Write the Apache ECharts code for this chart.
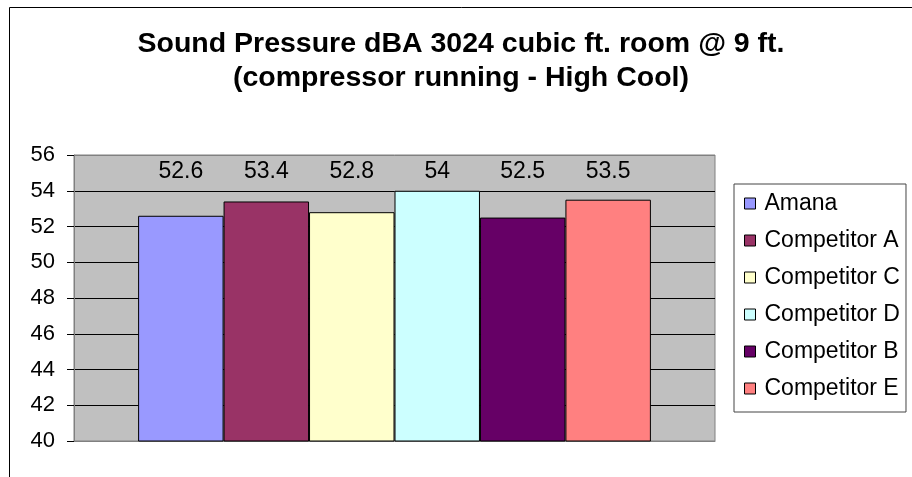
<!DOCTYPE html>
<html>
<head>
<meta charset="utf-8">
<script src="https://cdn.jsdelivr.net/npm/echarts@6/dist/echarts.min.js"></script>
<style>
  html, body { margin: 0; padding: 0; background: #fff; }
  #chart { width: 912px; height: 477px; }
</style>
</head>
<body>
<div id="chart"></div>
<script>
const seriesNames = ["Amana", "Competitor A", "Competitor C", "Competitor D", "Competitor B", "Competitor E"];
const seriesValues = [52.6, 53.4, 52.8, 54, 52.5, 53.5];
const seriesColors = ["#9999ff", "#993366", "#ffffcc", "#ccffff", "#660066", "#ff8080"];
const yTicks = { min: 40, max: 56, interval: 2 };

const font = "Liberation Sans, Arial, sans-serif";
const chart = echarts.init(document.getElementById("chart"), null, { renderer: "canvas" });

// label row sits near the top of the plot, like the Excel original
const labelCenterY = 172;
const labelSize = 23;

const buildSeries = (dist) =>
  seriesNames.map((name, i) => ({
    name: name,
    type: "bar",
    data: [seriesValues[i]],
    barGap: "0%",
    barCategoryGap: "20%",
    itemStyle: { color: seriesColors[i], borderColor: "#000", borderWidth: 1 },
    label: {
      show: true,
      position: "top",
      distance: dist ? dist[i] : 5,
      color: "#000",
      fontFamily: font,
      fontSize: labelSize,
      lineHeight: labelSize,
    },
  }));

const options = {
  animation: false,
  backgroundColor: "#fff",
  title: {
    text: "Sound Pressure dBA 3024 cubic ft. room @ 9 ft.\n(compressor running - High Cool)",
    left: 456,
    textAlign: "center",
    top: 22,
    textStyle: {
      fontFamily: font,
      fontWeight: "bold",
      fontSize: 28.5,
      lineHeight: 34,
      color: "#000",
    },
  },
  graphic: [
    {
      type: "rect",
      shape: { x: 9.5, y: 7.5, width: 1000, height: 1000 },
      style: { fill: "none", stroke: "#000", lineWidth: 1 },
      silent: true,
    },
  ],
  legend: {
    orient: "vertical",
    left: 734,
    top: 184,
    padding: [8, 6, 12, 10],
    itemGap: 14,
    itemWidth: 11,
    itemHeight: 11,
    icon: "rect",
    borderColor: "#444",
    borderWidth: 1,
    backgroundColor: "#fff",
    textStyle: {
      fontFamily: font,
      fontSize: 23,
      color: "#000",
      lineHeight: 23,
      padding: [0, 0, 0, 4],
    },
    itemStyle: { borderColor: "#000", borderWidth: 1 },
    data: seriesNames,
  },
  grid: {
    left: 74,
    right: 197,
    top: 155,
    bottom: 36,
    show: true,
    backgroundColor: "#c0c0c0",
    borderColor: "#808080",
    borderWidth: 1,
  },
  xAxis: {
    type: "category",
    data: [""],
    axisLine: { show: true, lineStyle: { color: "#808080" } },
    axisTick: { show: false },
    axisLabel: { show: false },
  },
  yAxis: {
    type: "value",
    min: yTicks.min,
    max: yTicks.max,
    interval: yTicks.interval,
    axisLine: { show: true, lineStyle: { color: "#808080" } },
    axisTick: { show: true, length: 7, lineStyle: { color: "#000" } },
    axisLabel: { margin: 19, fontFamily: font, fontSize: 22, color: "#000" },
    splitLine: {
      show: true,
      lineStyle: {
        color: ["#808080", "#000", "#000", "#000", "#000", "#000", "#000", "#000", "#808080"],
        width: 1,
      },
    },
  },
  series: buildSeries(null),
};

chart.setOption(options);

// move each label up to the common label row using the axis scale
const dist = seriesValues.map((v) => {
  const barTop = chart.convertToPixel({ yAxisIndex: 0 }, v);
  return Math.max(2, barTop - labelCenterY - labelSize / 2);
});
chart.setOption({ series: buildSeries(dist) });
</script>
</body>
</html>
